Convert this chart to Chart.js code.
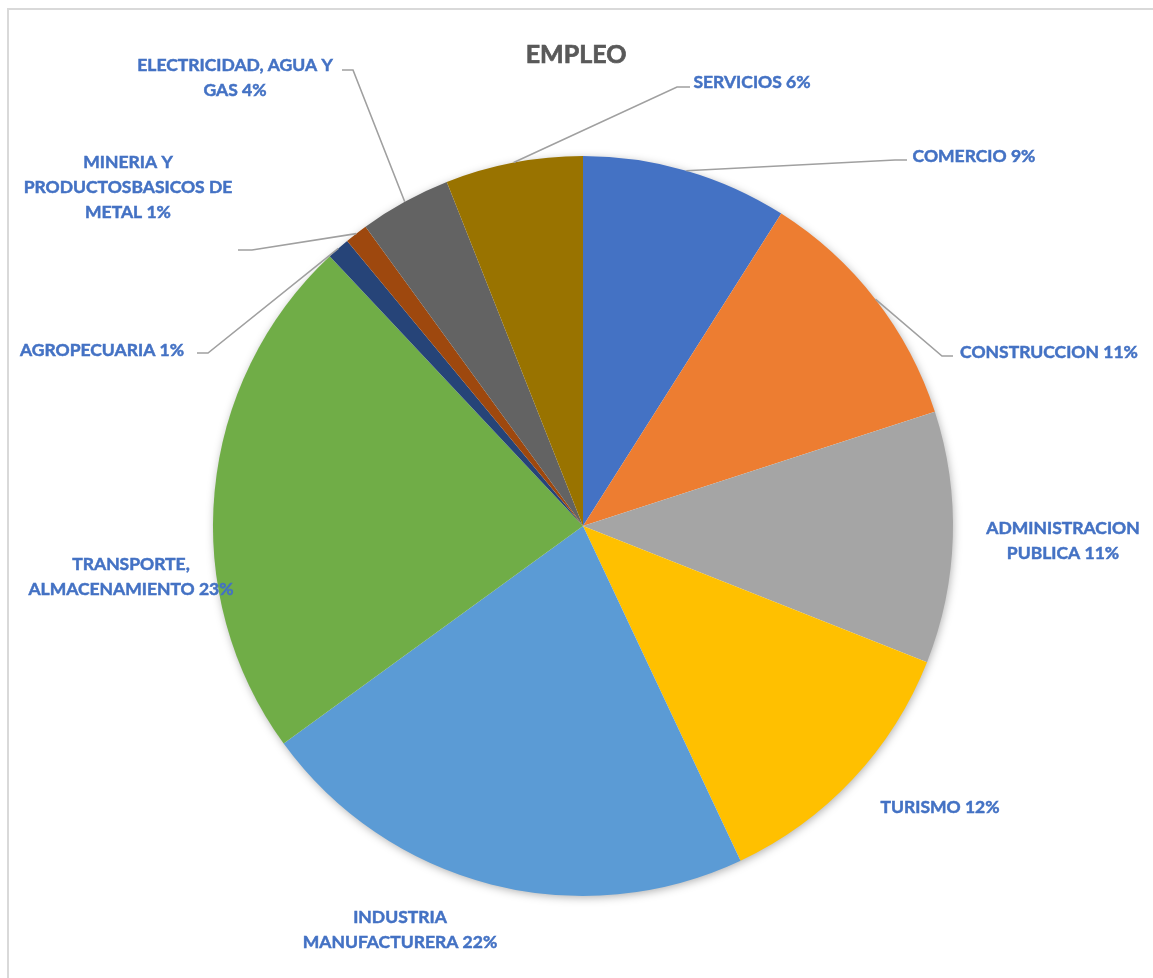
<!DOCTYPE html>
<html>
<head>
<meta charset="utf-8">
<script src="https://cdn.jsdelivr.net/npm/chart.js@4.4.1/dist/chart.umd.min.js"></script>
<style>
  html, body { margin: 0; padding: 0; background: #fff; }
</style>
</head>
<body>
<canvas id="myChart" width="1153" height="978"></canvas>
<script>
// data (clockwise from 12 o'clock)
const categories = [
  "COMERCIO",
  "CONSTRUCCION",
  "ADMINISTRACION PUBLICA",
  "TURISMO",
  "INDUSTRIA MANUFACTURERA",
  "TRANSPORTE, ALMACENAMIENTO",
  "AGROPECUARIA",
  "MINERIA Y PRODUCTOSBASICOS DE METAL",
  "ELECTRICIDAD, AGUA Y GAS",
  "SERVICIOS",
];
const empleo = [9, 11, 11, 12, 22, 23, 1, 1, 4, 6];
const sliceColors = [
  "#4472C4", // Comercio
  "#ED7D31", // Construccion
  "#A5A5A5", // Administracion
  "#FFC000", // Turismo
  "#5B9BD5", // Industria
  "#70AD47", // Transporte
  "#264478", // Agropecuaria
  "#9E480E", // Mineria
  "#636363", // Electricidad
  "#997300", // Servicios
];
const chartTitle = "EMPLEO";

// label placement, px offsets from the pie centre
const labelLayout = [
  { text: [391, -370], maxW: 400, elbow: [312, -366], end: [324, -366] },
  { text: [466, -174], maxW: 400, elbow: [359, -170], end: [370, -170] },
  { text: [480, 15], maxW: 180 },
  { text: [357, 281], maxW: 400 },
  { text: [-183, 404], maxW: 225 },
  { text: [-452, 51], maxW: 235 },
  { text: [-481, -176], maxW: 400, elbow: [-375, -173], end: [-386, -173] },
  { text: [-455, -339], maxW: 235, elbow: [-331, -276], end: [-345, -276] },
  { text: [-348, -448], maxW: 225, elbow: [-230, -456], end: [-241, -456] },
  { text: [169, -444], maxW: 400, elbow: [94, -439], end: [107, -439] },
];

const labelFont = "bold 17.5px Lato, 'Open Sans', sans-serif";

function wrapText(ctx, str, maxW) {
  const words = str.split(" ");
  const lines = [];
  let cur = "";
  words.forEach(function (w) {
    const test = cur ? cur + " " + w : w;
    if (cur && ctx.measureText(test).width > maxW) {
      lines.push(cur);
      cur = w;
    } else {
      cur = test;
    }
  });
  if (cur) lines.push(cur);
  return lines;
}

const pieShadow = {
  id: "pieShadow",
  beforeDatasetsDraw(chart) {
    const arc = chart.getDatasetMeta(0).data[0];
    if (!arc) return;
    const ctx = chart.ctx;
    ctx.save();
    ctx.shadowColor = "rgba(0,0,0,0.35)";
    ctx.shadowBlur = 10;
    ctx.shadowOffsetX = 1;
    ctx.shadowOffsetY = 2;
    ctx.fillStyle = "#ffffff";
    ctx.beginPath();
    ctx.arc(arc.x, arc.y, arc.outerRadius - 1, 0, Math.PI * 2);
    ctx.fill();
    ctx.restore();
  },
};

const frameAndLabels = {
  id: "frameAndLabels",
  beforeDraw(chart) {
    const ctx = chart.ctx;
    ctx.save();
    ctx.strokeStyle = "#D9D9D9";
    ctx.lineWidth = 2;
    ctx.strokeRect(8, 9, chart.width + 20, chart.height + 20);
    ctx.restore();
  },
  afterDraw(chart) {
    const ctx = chart.ctx;
    const meta = chart.getDatasetMeta(0);
    const total = empleo.reduce((a, b) => a + b, 0);
    const cx = meta.data[0].x;
    const cy = meta.data[0].y;

    ctx.save();
    // title (thin stroke to get closer to the heavy Calibri bold)
    ctx.fillStyle = "#595959";
    ctx.strokeStyle = "#595959";
    ctx.lineWidth = 0.7;
    ctx.font = "bold 25px Lato, 'Open Sans', sans-serif";
    ctx.textAlign = "center";
    ctx.textBaseline = "middle";
    ctx.fillText(chartTitle, 576, 55);
    ctx.strokeText(chartTitle, 576, 55);

    meta.data.forEach(function (arc, i) {
      const lay = labelLayout[i];
      const mid = (arc.startAngle + arc.endAngle) / 2;
      const r = arc.outerRadius;

      if (lay.elbow) {
        ctx.strokeStyle = "#A0A0A0";
        ctx.lineWidth = 1.6;
        ctx.beginPath();
        ctx.moveTo(cx + Math.cos(mid) * r, cy + Math.sin(mid) * r);
        ctx.lineTo(cx + lay.elbow[0], cy + lay.elbow[1]);
        ctx.lineTo(cx + lay.end[0], cy + lay.end[1]);
        ctx.stroke();
      }

      ctx.font = labelFont;
      ctx.fillStyle = "#4472C4";
      ctx.strokeStyle = "#4472C4";
      ctx.lineWidth = 0.5;
      ctx.textAlign = "center";
      ctx.textBaseline = "middle";
      const pct = Math.round((empleo[i] / total) * 100);
      const lines = wrapText(ctx, categories[i] + " " + pct + "%", lay.maxW);
      const lh = 25;
      const y0 = cy + lay.text[1] - ((lines.length - 1) * lh) / 2;
      lines.forEach(function (ln, k) {
        ctx.fillText(ln, cx + lay.text[0], y0 + k * lh);
        ctx.strokeText(ln, cx + lay.text[0], y0 + k * lh);
      });
    });
    ctx.restore();
  },
};

const ctx = document.getElementById("myChart");

new Chart(ctx, {
  type: "pie",
  data: {
    labels: categories,
    datasets: [
      {
        data: empleo,
        backgroundColor: sliceColors,
        borderWidth: 0,
      },
    ],
  },
  options: {
    responsive: false,
    animation: false,
    layout: {
      padding: { left: 213, right: 200, top: 156, bottom: 82 },
    },
    plugins: {
      legend: { display: false },
      title: { display: false },
      tooltip: { enabled: false },
    },
  },
  plugins: [pieShadow, frameAndLabels],
});
</script>
</body>
</html>
